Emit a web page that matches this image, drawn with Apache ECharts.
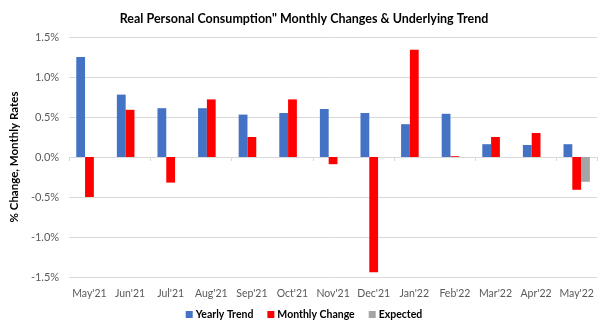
<!DOCTYPE html>
<html><head><meta charset="utf-8">
<script src="https://cdn.jsdelivr.net/npm/echarts@6/dist/echarts.min.js"></script>
<style>html,body{margin:0;padding:0;background:#fff}#c{width:608px;height:331px}</style>
</head><body><div id="c"></div>
<script>
const categories = ["May'21","Jun'21","Jul'21","Aug'21","Sep'21","Oct'21","Nov'21","Dec'21","Jan'22","Feb'22","Mar'22","Apr'22","May'22"];
const yearlyTrend = [1.25,0.78,0.61,0.61,0.53,0.55,0.60,0.55,0.41,0.54,0.16,0.15,0.16];
const monthlyChange = [-0.50,0.59,-0.32,0.72,0.25,0.72,-0.09,-1.44,1.34,0.01,0.25,0.30,-0.41];
const expected = [null,null,null,null,null,null,null,null,null,null,null,null,-0.31];
const yTicks = [-1.5,-1.0,-0.5,0.0,0.5,1.0,1.5];

const font = "Lato, 'Open Sans', sans-serif";
const chart = echarts.init(document.getElementById('c'), null, {renderer:'canvas'});
chart.setOption({
  animation:false,
  title:{text:'Real Personal Consumption" Monthly Changes & Underlying Trend',left:'center',top:7,
    textStyle:{fontFamily:font,fontSize:12.5,fontWeight:'bold',color:'#000'}},
  legend:{bottom:6,left:'center',itemWidth:7,itemHeight:7,itemGap:14,icon:'rect',
    textStyle:{fontFamily:font,fontSize:10.5,fontWeight:'bold',color:'#000',padding:[0,0,0,-2]},
    data:['Yearly Trend','Monthly Change','Expected']},
  grid:{left:60,right:11,top:37,bottom:54},
  xAxis:[
    {type:'category',data:categories,position:'bottom',
     axisLine:{onZero:true,lineStyle:{color:'#d9d9d9'}},
     axisTick:{show:true,length:4,lineStyle:{color:'#d9d9d9'}},
     axisLabel:{show:false}},
    {type:'category',data:categories,position:'bottom',
     axisLine:{show:false,onZero:false},axisTick:{show:false},
     axisLabel:{interval:0,fontFamily:font,fontSize:10.5,color:'#595959',margin:11}}
  ],
  yAxis:{type:'value',min:yTicks[0],max:yTicks[yTicks.length-1],interval:0.5,
    name:'% Change, Monthly Rates',nameLocation:'middle',nameGap:41,
    nameTextStyle:{fontFamily:font,fontSize:11.5,fontWeight:'bold',color:'#000'},
    axisLabel:{fontFamily:font,fontSize:11,color:'#595959',margin:10,formatter:v=>v.toFixed(1)+'%'},
    splitLine:{lineStyle:{color:'#d9d9d9'}},axisLine:{show:false},axisTick:{show:false}},
  series:[
    {name:'Yearly Trend',type:'bar',data:yearlyTrend,itemStyle:{color:'#4472c4'},barGap:'0%',barCategoryGap:'35%'},
    {name:'Monthly Change',type:'bar',data:monthlyChange,itemStyle:{color:'#ff0000'},barGap:'0%',barCategoryGap:'35%'},
    {name:'Expected',type:'bar',data:expected,itemStyle:{color:'#a5a5a5'},barGap:'0%',barCategoryGap:'35%'}
  ]
});
</script></body></html>
